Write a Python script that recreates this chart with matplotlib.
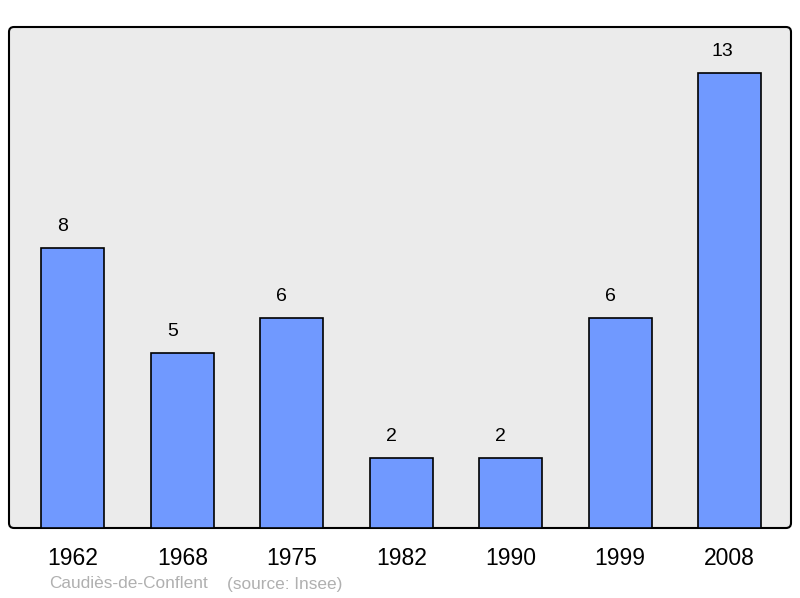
import matplotlib
matplotlib.use("Agg")
import matplotlib.pyplot as plt
from matplotlib.patches import FancyBboxPatch

years = ["1962", "1968", "1975", "1982", "1990", "1999", "2008"]
values = [8, 5, 6, 2, 2, 6, 13]
title_left = "Caudiès-de-Conflent"
title_right = "(source: Insee)"

plt.rcParams['font.family'] = ['Liberation Sans', 'DejaVu Sans']

W, H = 800, 598
fig = plt.figure(figsize=(W/100, H/100), dpi=100)
ax = fig.add_axes([9/W, (H-528)/H, 782/W, 501/H])
ax.set_facecolor('none')

x = list(range(len(years)))
ax.bar(x, values, width=0.575, color='#7099ff', edgecolor='black', linewidth=1.2, zorder=3)
for xi, v in zip(x, values):
    ax.annotate(str(v), (xi, v), xytext=(-10 if v < 10 else -7, 21), textcoords='offset pixels',
                ha='center', va='center', fontsize=14, color='black')

ax.set_xlim(-0.584, 6.56)
ax.set_ylim(0, 14.31)
ax.set_xticks(x)
ax.set_xticklabels(years, fontsize=16.5)
ax.tick_params(axis='x', length=0, pad=14)
ax.set_yticks([])
for s in ax.spines.values():
    s.set_visible(False)

# rounded frame
box = FancyBboxPatch((9/100, (H-528)/100), 782/100, 501/100,
                     boxstyle="round,pad=0,rounding_size=0.05",
                     transform=fig.dpi_scale_trans, facecolor='#ebebeb',
                     edgecolor='black', linewidth=1.5, zorder=0)
fig.patches.append(box)
ax.set_zorder(1)

fig.text(49/W, (H-584)/H, title_left, fontsize=12.4, color='#b0b0b0', ha='left', va='center')
fig.text(227/W, (H-584)/H, title_right, fontsize=12.4, color='#b0b0b0', ha='left', va='center')

fig.savefig("out.png", dpi=100)
